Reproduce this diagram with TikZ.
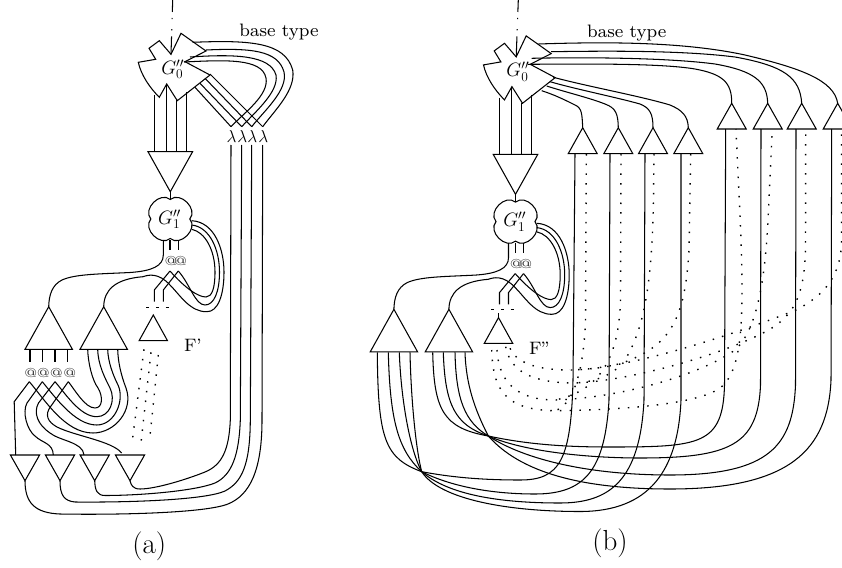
\documentclass[tikz,border=0pt]{standalone}
\newcommand\fsz[1]{\fontsize{#1}{#1}\selectfont}
\font\lblfont=cmr8 at 18pt
\font\atfont=cmr5 at 13pt
\tikzset{
  wire/.style={line width=1.05pt},
  dotwire/.style={line width=1.4pt,dash pattern=on 1.5pt off 8.2pt},
  lab/.style={inner sep=0pt,outer sep=0pt},
  small/.style={lab,font=\lblfont},
  atsign/.style={lab,font=\atfont,text=black!80},
  lam/.style={lab,font=\fsz{18}},
  gate/.style={lab,font=\fsz{18},scale=1.12},
  capt/.style={lab,font=\fsz{29}}
}
\newcommand\pp[3]{\coordinate (#1) at (#2,#3);}
% #1 name, #2,#3 apex, #4 half width, #5 signed height
\newcommand\tri[5]{\draw[wire] (#2,#3) coordinate (#1) -- ++(-#4,#5) coordinate (#1-l) -- ++({2*#4},0) coordinate (#1-r) -- cycle;}
% common upper part: #1 prefix, #2,#3 shift, #4 label
\newcommand\commonpart[4]{%
\begin{scope}[shift={(#2,#3)}]
  \draw[wire] (171,54.3) coordinate (#1g0notch) -- (159.3,40.7) -- (149,48.3) -- (155.7,59.3) -- (138.3,62.3)
     .. controls (141,75) and (150,88) .. (159.3,97.3) -- (166.7,84) -- (177.3,100.7) -- (210,75) -- (185,61.7) -- (206,51) -- (181,33.3) -- cycle;
  \node[gate] (#1G0) at (172.7,69.3) {$G_0''$};
  \tri{#1dn}{170.3}{191.7}{22.3}{-40}
  \pp{#1o1}{154.7}{95} \pp{#1o2}{166.7}{84} \pp{#1o3}{176.7}{100} \pp{#1o4}{186.7}{92}
  \foreach \k/\x in {1/154.7,2/166.7,3/176.7,4/186.7}{\pp{#1i\k}{\x}{151.7}\draw[wire] (#1o\k) -- (#1i\k);}
  \draw[wire] (170.3,199.5) coordinate (#1g1t)
    .. controls (180.3,191) and (198.3,209) .. (189.8,219) coordinate (#1g1r)
    .. controls (198.3,229) and (180.3,247) .. (170.3,238.5) coordinate (#1g1b)
    .. controls (160.3,247) and (142.3,229) .. (150.8,219)
    .. controls (142.3,209) and (160.3,191) .. (170.3,199.5) -- cycle;
  \node[gate] (#1G1) at (169.5,219.3) {$G_1''$};
  \draw[wire] (#1dn) -- (#1g1t);
  \tri{#1T1}{48.7}{306.7}{23.7}{42.6}
  \tri{#1T2}{103.7}{306.7}{23.7}{42.6}
  \tri{#1F}{153.3}{315}{14.2}{25.7}
  \pp{#1s0}{163.3}{240.5} \pp{#1s1}{170}{240} \pp{#1s2}{178.3}{240}
  \pp{#1s1e}{170}{250} \pp{#1s2e}{178.3}{250}
  \draw[wire] (#1s1) -- (#1s1e);
  \draw[wire] (#1s2) -- (#1s2e);
  \node[atsign] (#1at1) at (171,261) {@};
  \node[atsign] (#1at2) at (180.5,261) {@};
  \pp{#1ap1}{170}{271} \pp{#1ap2}{178.3}{271}
  \pp{#1ft1}{154.3}{301.7} \pp{#1ft2}{163.3}{301.7}
  \draw[wire] (#1ap1) -- (154.3,290) -- (#1ft1);
  \draw[wire] (#1ap2) -- (163.3,290) -- (#1ft2);
  \pp{#1da}{146}{307.3} \pp{#1db}{168.5}{307.3}
  \draw[wire,dash pattern=on 3pt off 6.75pt] (#1da) -- (#1db);
  \draw[wire] (#1s0) -- (163.3,255) .. controls (163.3,266) and (152,271) .. (130,272.5)
     .. controls (100,274) and (75,274) .. (62,280) .. controls (52,285) and (49,295) .. (#1T1);
  \pp{#1r1}{191.7}{220.7} \pp{#1r2}{191.7}{225} \pp{#1r3}{191.7}{229.3}
  \draw[wire] (#1r1) .. controls (215,222) and (224,250) .. (224,272) .. controls (224,295) and (218,312) .. (206.7,311.7)
     .. controls (190,312) and (180,295) .. (170,285) .. controls (158,272) and (148,275) .. (143,276.7)
     .. controls (115,279) and (104,290) .. (#1T2);
  \draw[wire] (#1r2) .. controls (210,227) and (219.5,250) .. (219.5,272) .. controls (219.5,292) and (214,305) .. (205,305)
     .. controls (195,305) and (190,284) .. (#1ap2);
  \draw[wire] (#1r3) .. controls (205,232) and (215,250) .. (215,272) .. controls (215,288) and (212,297) .. (206,297)
     .. controls (198,297) and (185,288) .. (#1ap1);
  \node[small,anchor=west] (#1Flab) at (184,345.5) {#4};
\end{scope}}

\begin{document}
\begin{tikzpicture}[x=1pt,y=-1pt]
\useasboundingbox (0,0) rectangle (842,567);
\clip (0,0) rectangle (842,567);

%================ panel (a)
\commonpart{a}{0}{0}{F'}
\pp{atop}{172.7}{0}
\draw[wire,dash pattern=on 12pt off 6pt on 1.2pt off 10pt on 1.2pt off 6pt on 30pt] (atop) -- (ag0notch);
\node[small] (abase) at (279,31.7) {base type};

\foreach \k/\x in {1/231,2/241.7,3/251.7,4/262.7}{
  \pp{lt\k}{\x}{126.7}\pp{lb\k}{\x}{145}
  \node[lam] (la\k) at (\x+0.6,136) {$\lambda$};
}
\pp{gl1}{195}{87.3}\pp{gl2}{200}{83.3}\pp{gl3}{205}{78.3}\pp{gl4}{210}{74}
\foreach \k in {1,2,3,4}{\draw[wire] (gl\k) -- (lt\k);}
\pp{gt1}{192.7}{42.3}\pp{gt2}{206}{50}\pp{gt3}{190}{57}\pp{gt4}{184}{62}
\draw[wire] (gt1) .. controls (250,40) and (285,42) .. (292.7,70) .. controls (296,90) and (275,110) .. (lt4);
\draw[wire] (gt2) .. controls (250,48) and (278,50) .. (284,72) .. controls (288,90) and (265,110) .. (lt3);
\draw[wire] (gt3) .. controls (235,54) and (270,55) .. (276,75) .. controls (279,92) and (255,112) .. (lt2);
\draw[wire] (gt4) .. controls (225,60) and (262,58) .. (266,78) .. controls (269,95) and (245,112) .. (lt1);

% bottom triangles
\tri{b1}{25}{480.7}{14.6}{-25.7}
\tri{b2}{60}{480.7}{14.6}{-25.7}
\tri{b3}{94.7}{480.7}{14.6}{-25.7}
\tri{b4}{130}{480.7}{14.6}{-25.7}
\draw[wire] (lb1) -- (230.3,420) .. controls (229,450) and (222,465) .. (205,472) .. controls (185,480) and (155,489) .. (140,489) .. controls (133,489) and (131,485) .. (b4);
\draw[wire] (lb2) -- (240.3,420) .. controls (239,455) and (232,475) .. (215,483) .. controls (195,491) and (140,495.5) .. (105,495.5) .. controls (97,495.5) and (95,490) .. (b3);
\draw[wire] (lb3) -- (250.3,420) .. controls (250,465) and (242,482) .. (225,491) .. controls (205,500) and (130,502.5) .. (75,502) .. controls (64,501) and (60,495) .. (b2);
\draw[wire] (lb4) -- (262,420) .. controls (262,470) and (250,495) .. (228,504) .. controls (205,513) and (120,515) .. (60,514) .. controls (35,513) and (25,503) .. (b1);

% T1 outputs
\foreach \k/\x/\ax in {1/30/30.7,2/42.7/43.4,3/55/56.3,4/67.7/69.8}{
  \pp{u\k}{\x}{349.3}\pp{ue\k}{\x}{362.3}
  \draw[wire] (u\k) -- (ue\k);
  \node[atsign] (at\k) at (\ax,372.6) {@};
}
\pp{ax1}{29.3}{381.7}\pp{ax2}{42.3}{381.7}\pp{ax3}{55}{381.7}\pp{ax4}{68.3}{381.7}
\pp{vv1}{87.7}{349.3}\pp{vv2}{97.7}{349.3}\pp{vv3}{107.7}{349.3}\pp{vv4}{117.7}{349.3}
\draw[wire] (vv1) .. controls (88,362) and (92,380) .. (98,388) .. controls (103,396) and (103,408) .. (95,408) .. controls (85,408) and (75,390) .. (ax4);
\draw[wire] (vv2) .. controls (98,365) and (105,378) .. (110,388) .. controls (116,400) and (110,416.7) .. (96.7,416.7) .. controls (80,416.7) and (65,393) .. (ax3);
\draw[wire] (vv3) .. controls (108,362) and (113,375) .. (118,385) .. controls (125,400) and (115,425) .. (96.7,425) .. controls (75,425) and (55,397) .. (ax2);
\draw[wire] (vv4) .. controls (118,362) and (121,375) .. (126,388) .. controls (134,410) and (115,433) .. (93,433) .. controls (65,433) and (45,400) .. (ax1);
\pp{bt1}{15.7}{455}\pp{bt2}{53.3}{455}\pp{bt3}{84}{455}\pp{bt4}{121.7}{453}
\draw[wire] (ax1) -- (14.2,401.7) -- (bt1);
\draw[wire] (ax2) -- (27,403) .. controls (22,412) and (27,430) .. (35,436) .. controls (42,443) and (53,443) .. (bt2);
\draw[wire] (ax3) -- (38.5,403) .. controls (33,413) and (38,425) .. (50,433) .. controls (60,441) and (83,442) .. (bt3);
\draw[wire] (ax4) -- (51,406) .. controls (44,415) and (48,422) .. (57,427) .. controls (75,436) and (112,441) .. (bt4);
% dotted to bottom triangle
\pp{fd1}{144}{349.3}\pp{fd2}{151}{352.3}\pp{fd3}{158.3}{355}
\pp{fe1}{132.3}{440.7}\pp{fe2}{141}{442.7}\pp{fe3}{150}{436}
\foreach \k in {1,2,3}{\draw[dotwire] (fd\k) -- (fe\k);}
\node[capt] (capa) at (149.3,546.7) {(a)};

%================ panel (b)
\commonpart{c}{345.2}{2.6}{F''}
\pp{ctop}{518.3}{0}
\draw[wire,dash pattern=on 12pt off 6pt on 1.2pt off 10pt on 1.2pt off 6pt on 30pt] (ctop) -- (cg0notch);
\node[small] (cbase) at (626.7,33.3) {base type};
\pp{fs1}{498.5}{313.3}
\draw[wire] (fs1) -- (cF);

% upper triangles
\tri{p1}{582.7}{127.7}{14.5}{26}
\tri{p2}{618.3}{127.7}{14.5}{26}
\tri{p3}{653}{127.7}{14.5}{26}
\tri{p4}{688.3}{127.7}{14.5}{26}
\tri{q1}{731.7}{103.3}{14.5}{25.7}
\tri{q2}{767.7}{103.3}{14.5}{25.7}
\tri{q3}{801.7}{103.3}{14.5}{25.7}
\tri{q4}{837.7}{103.3}{14.5}{25.7}
\pp{m1}{538.3}{44}\pp{m2}{551}{51.7}\pp{m3}{531.7}{58.3}\pp{m4}{528}{64.3}
\draw[wire] (m1) .. controls (600,42) and (680,41) .. (745,55) .. controls (800,68) and (834,80) .. (q4);
\draw[wire] (m2) .. controls (600,51) and (680,50) .. (735,57) .. controls (785,66) and (800,78) .. (q3);
\draw[wire] (m3) .. controls (590,57) and (670,58) .. (715,64) .. controls (755,71) and (767,82) .. (q2);
\draw[wire] (m4) .. controls (580,64) and (660,63) .. (695,69) .. controls (722,74) and (732,82) .. (q1);
\pp{n1}{541.7}{90.7}\pp{n2}{546.7}{86}\pp{n3}{550}{81.7}\pp{n4}{553.3}{77.3}
\draw[wire] (n4) .. controls (590,87) and (640,96) .. (670,105) .. controls (682,110) and (688,116) .. (p4);
\draw[wire] (n3) .. controls (575,89) and (615,97) .. (640,104) .. controls (650,108) and (653,114) .. (p3);
\draw[wire] (n2) .. controls (565,92) and (590,98) .. (605,104) .. controls (616,108) and (618,114) .. (p2);
\draw[wire] (n1) .. controls (555,95) and (565,100) .. (575,105) .. controls (582,108) and (582,114) .. (p1);

% convergence points
\pp{z1}{421.7}{471.7}\pp{z2}{488.3}{436}
\pp{w1}{377.3}{352.3}\pp{w2}{388.3}{352.3}\pp{w3}{399.3}{352.3}\pp{w4}{410}{352.3}
\pp{w5}{432.7}{352.3}\pp{w6}{443.3}{352.3}\pp{w7}{455}{352.3}\pp{w8}{465}{352.3}
\pp{pb1}{575}{153.7}\pp{pb2}{610}{153.7}\pp{pb3}{645}{153.7}\pp{pb4}{681}{153.7}
\pp{qb1}{725.7}{129}\pp{qb2}{761}{129}\pp{qb3}{796}{129}\pp{qb4}{831.7}{129}
\draw[wire] (w1) .. controls (378,440) and (385,458) .. (z1) .. controls (450,477) and (480,480) .. (520,480) .. controls (560,480) and (571,460) .. (573,380) -- (pb1);
\draw[wire] (w2) .. controls (390,420) and (398,450) .. (z1) .. controls (450,486) and (490,494) .. (535,494) .. controls (585,494) and (605,470) .. (609,400) -- (pb2);
\draw[wire] (w3) .. controls (401,400) and (410,450) .. (z1) .. controls (445,492) and (490,503) .. (560,503) .. controls (610,503) and (640,480) .. (644,400) -- (pb3);
\draw[wire] (w4) .. controls (411,400) and (416,450) .. (z1) .. controls (440,500) and (510,511.5) .. (580,511.5) .. controls (650,511.5) and (678,470) .. (681,400) -- (pb4);
\draw[wire] (w5) .. controls (434,410) and (443,428) .. (z2) .. controls (530,445) and (570,447) .. (610,447) .. controls (700,447) and (723,445) .. (724.5,385) -- (qb1);
\draw[wire] (w6) .. controls (445,405) and (455,425) .. (z2) .. controls (525,452) and (590,458) .. (640,458) .. controls (730,458) and (758,445) .. (760.5,385) -- (qb2);
\draw[wire] (w7) .. controls (456,400) and (465,422) .. (z2) .. controls (525,460) and (590,475) .. (670,475) .. controls (770,475) and (793,445) .. (795.5,385) -- (qb3);
\draw[wire] (w8) .. controls (466,385) and (475,410) .. (z2) .. controls (520,472) and (580,489) .. (670,489) .. controls (790,489) and (828,450) .. (831,380) -- (qb4);

% dotted
\pp{d1}{510}{348.3}\pp{d2}{505.7}{346.7}\pp{d3}{497}{350}\pp{d4}{491.7}{350}
\pp{ja}{570}{370}\pp{jb}{575}{383}\pp{jc}{555}{400}\pp{jd}{555}{410.7}
\pp{dq1}{736}{129}\pp{dq2}{772.3}{129}\pp{dq3}{805.7}{129}\pp{dq4}{841.5}{129}
\pp{dp1}{586.3}{154}\pp{dp2}{621}{154}\pp{dp3}{654}{154}\pp{dp4}{690.7}{154}
\draw[dotwire] (d1) .. controls (516,362) and (535,370) .. (ja) .. controls (620,370) and (720,340) .. (796,310) .. controls (825,295) and (841.5,275) .. (841.5,240) -- (dq4);
\draw[dotwire] (d2) .. controls (510,370) and (530,383) .. (jb) .. controls (630,381) and (720,355) .. (763,333) .. controls (795,317) and (804,295) .. (805.5,250) -- (dq3);
\draw[dotwire] (d3) .. controls (499,385) and (520,400) .. (jc) .. controls (620,398) and (700,375) .. (735,350) .. controls (757,330) and (765,280) .. (768,220) -- (dq2);
\draw[dotwire] (d4) .. controls (493,390) and (505,410) .. (jd) .. controls (620,410) and (690,405) .. (717,390) .. controls (738,378) and (742,340) .. (742,290) .. controls (742,240) and (738,180) .. (dq1);
\draw[dotwire] (dp4) -- (689,250) .. controls (685,320) and (670,345) .. (625,362) .. controls (610,367) and (595,369) .. (ja);
\draw[dotwire] (dp3) -- (653.5,200) .. controls (652,280) and (645,330) .. (623,363) .. controls (612,375) and (595,382) .. (jb);
\draw[dotwire] (dp2) -- (620.5,300) .. controls (619,350) and (605,390) .. (jc);
\draw[dotwire] (dp1) -- (585.5,320) .. controls (584,365) and (575,405) .. (jd);
\node[capt] (capb) at (610,543.3) {(b)};
\end{tikzpicture}
\end{document}
